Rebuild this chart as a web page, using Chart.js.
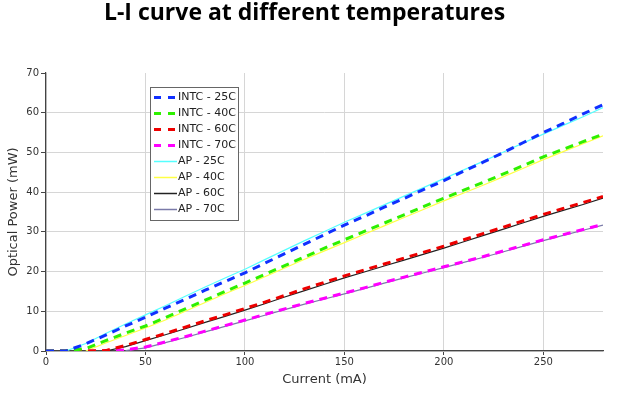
<!DOCTYPE html>
<html>
<head>
<meta charset="utf-8">
<script src="https://cdn.jsdelivr.net/npm/chart.js@4/dist/chart.umd.min.js"></script>
<style>
  html, body { margin: 0; padding: 0; background: #fff; }
  #wrap { width: 619px; height: 394px; position: relative; }
</style>
</head>
<body>
<div id="wrap"><canvas id="chart"></canvas></div>
<script>
// current (mA)
const currents = [0, 10, 20, 30, 40, 50, 60, 70, 80, 90, 100, 110, 120, 130, 140, 150, 160, 170, 180, 190, 200, 210, 220, 230, 240, 250, 260, 270, 280];

// optical power (mW), measured (INTC) and model (AP)
const intc25 = [0, 0, 1.8, 4.0, 6.3, 8.5, 10.8, 13.0, 15.3, 17.5, 19.7, 22.1, 24.5, 26.9, 29.3, 31.7, 33.9, 36.2, 38.4, 40.7, 42.9, 45.3, 47.6, 50.0, 52.5, 55.0, 57.3, 59.7, 62.0];
const intc40 = [0, 0, 0.6, 2.6, 4.5, 6.3, 8.4, 10.6, 12.8, 15.0, 17.1, 19.3, 21.5, 23.7, 25.9, 28.0, 30.1, 32.2, 34.3, 36.4, 38.5, 40.5, 42.5, 44.6, 46.7, 48.9, 50.8, 52.7, 54.6];
const intc60 = [0, 0, 0, 0.1, 1.4, 2.9, 4.4, 6.0, 7.6, 9.1, 10.7, 12.3, 14.0, 15.7, 17.3, 18.9, 20.4, 21.9, 23.4, 24.9, 26.4, 28.0, 29.6, 31.2, 32.8, 34.4, 35.9, 37.4, 38.9];
const intc70 = [0, 0, 0, 0, 0.3, 1.0, 2.3, 3.6, 5.0, 6.4, 7.8, 9.2, 10.6, 12.0, 13.3, 14.6, 15.9, 17.3, 18.6, 19.9, 21.2, 22.5, 23.8, 25.2, 26.6, 28.0, 29.3, 30.6, 31.9];
const ap25 = [null, 0, 1.9, 4.4, 6.8, 9.1, 11.4, 13.8, 16.1, 18.4, 20.6, 23.0, 25.4, 27.8, 30.1, 32.4, 34.6, 36.8, 39.0, 41.2, 43.4, 45.6, 47.8, 50.1, 52.4, 54.6, 56.8, 59.0, 61.3];
const ap40 = [null, null, 0, 2.0, 3.9, 5.8, 7.8, 10.0, 12.2, 14.4, 16.5, 18.7, 20.9, 23.1, 25.2, 27.3, 29.4, 31.5, 33.6, 35.7, 37.8, 39.8, 41.8, 43.9, 46.0, 48.2, 50.2, 52.2, 54.2];
const ap60 = [null, null, null, 0, 1.1, 2.6, 4.1, 5.6, 7.2, 8.7, 10.3, 11.9, 13.6, 15.2, 16.8, 18.4, 19.9, 21.4, 22.9, 24.4, 25.9, 27.5, 29.1, 30.7, 32.3, 33.9, 35.4, 36.9, 38.5];
const ap70 = [null, null, null, null, 0.1, 0.8, 2.1, 3.4, 4.8, 6.2, 7.6, 9.0, 10.4, 11.8, 13.1, 14.4, 15.7, 17.1, 18.4, 19.7, 21.0, 22.3, 23.6, 25.0, 26.4, 27.8, 29.1, 30.4, 31.7];

const xTicks = [0, 50, 100, 150, 200, 250];
const yTicks = [0, 10, 20, 30, 40, 50, 60, 70];

const pts = arr => arr.map((v, i) => ({ x: currents[i], y: v }));

function dashed(label, values, color) {
  return { label, data: pts(values), borderColor: color, backgroundColor: color, borderWidth: 3, borderDash: [8, 6], pointRadius: 0, fill: false };
}
function solid(label, values, color) {
  return { label, data: pts(values), borderColor: color, backgroundColor: color, borderWidth: 1.2, pointRadius: 0, fill: false, spanGaps: false };
}

const datasets = [
  dashed('INTC - 25C', intc25, '#1030ff'),
  dashed('INTC - 40C', intc40, '#2ef000'),
  dashed('INTC - 60C', intc60, '#ee0000'),
  dashed('INTC - 70C', intc70, '#ff00ff'),
  solid('AP - 25C', ap25, '#55ffff'),
  solid('AP - 40C', ap40, '#ffff44'),
  solid('AP - 60C', ap60, '#222222'),
  solid('AP - 70C', ap70, '#7a7aa8')
];

// legend box drawn inside the plot, top-left
const boxLegend = {
  id: 'boxLegend',
  afterDraw(chart) {
    const ctx = chart.ctx;
    const x0 = 150, y0 = 87, w = 88, rowH = 16;
    const h = rowH * datasets.length + 5;
    ctx.save();
    ctx.fillStyle = '#fff';
    ctx.fillRect(x0, y0, w, h);
    ctx.strokeStyle = '#666';
    ctx.lineWidth = 1;
    ctx.strokeRect(x0 + 0.5, y0 + 0.5, w, h);
    ctx.font = '11px "DejaVu Sans"';
    ctx.textBaseline = 'middle';
    chart.data.datasets.forEach((ds, i) => {
      const y = y0 + 10 + i * rowH;
      ctx.beginPath();
      ctx.strokeStyle = ds.borderColor;
      ctx.lineWidth = ds.borderDash ? 3 : 1.5;
      ctx.setLineDash(ds.borderDash ? [7, 7] : []);
      ctx.moveTo(x0 + 4, Math.round(y) + 0.5);
      ctx.lineTo(x0 + 27, Math.round(y) + 0.5);
      ctx.stroke();
      ctx.setLineDash([]);
      ctx.fillStyle = '#222';
      ctx.fillText(ds.label, x0 + 28, y);
    });
    ctx.restore();
  }
};

new Chart(document.getElementById('chart'), {
  type: 'line',
  data: { datasets },
  options: {
    responsive: true,
    maintainAspectRatio: false,
    animation: false,
    layout: { padding: { left: 6, right: 16, top: 0, bottom: 7 } },
    plugins: {
      legend: { display: false },
      tooltip: { enabled: false },
      title: {
        display: true,
        text: 'L-I curve at different temperatures',
        color: '#000',
        font: { family: '"Open Sans"', size: 23, weight: 'bold' },
        padding: { top: 0, bottom: 45.4 }
      }
    },
    scales: {
      x: {
        type: 'linear',
        min: 0,
        max: 280,
        afterFit: s => { s.height = 36; },
        afterBuildTicks: s => { s.ticks = xTicks.map(v => ({ value: v })); },
        grid: { color: '#d6d6d6', tickLength: 4, tickColor: '#444' },
        border: { color: '#444', width: 1.2 },
        ticks: { color: '#333', font: { family: '"DejaVu Sans"', size: 10 }, padding: 1, maxRotation: 0 },
        title: { display: true, text: 'Current (mA)', color: '#333', font: { family: '"DejaVu Sans"', size: 13 }, padding: { top: 1, bottom: 0 } }
      },
      y: {
        min: 0,
        max: 70,
        afterFit: s => { s.width = 40; },
        afterBuildTicks: s => { s.ticks = yTicks.map(v => ({ value: v })); },
        grid: { color: ctx => ctx.tick && ctx.tick.value === 70 ? 'rgba(0,0,0,0)' : '#d6d6d6', tickLength: 5, tickColor: '#444' },
        border: { color: '#444', width: 1.2 },
        ticks: { color: '#333', font: { family: '"DejaVu Sans"', size: 10 }, padding: 2 },
        title: { display: true, text: 'Optical Power (mW)', color: '#333', font: { family: '"DejaVu Sans"', size: 13 }, padding: { top: 0, bottom: 2 } }
      }
    }
  },
  plugins: [boxLegend]
});
</script>
</body>
</html>
